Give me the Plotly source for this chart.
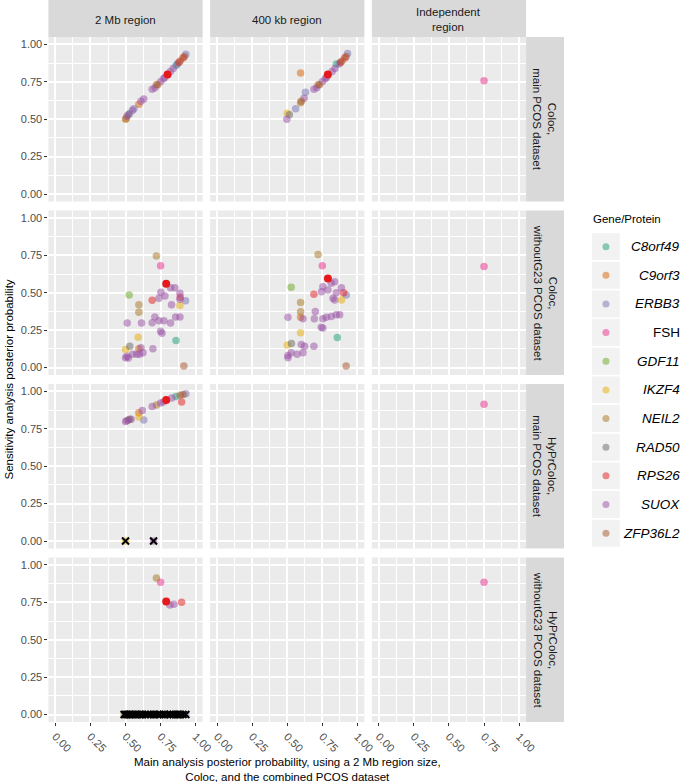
import plotly.graph_objects as go

# ---------------- data ----------------
genes = ["C8orf49", "C9orf3", "ERBB3", "FSH", "GDF11", "IKZF4",
         "NEIL2", "RAD50", "RPS26", "SUOX", "ZFP36L2"]
gene_colors = ["#1B9E77", "#D95F02", "#7570B3", "#E7298A", "#66A61E", "#E6AB02",
               "#A6761D", "#666666", "#E41A1C", "#984EA3", "#A65628"]
italic_genes = [True, True, True, False, True, True, True, True, True, True, True]

col_labels = ["2 Mb region", "400 kb region", "Independent<br>region"]
row_labels = ["Coloc,<br>main PCOS dataset",
              "Coloc,<br>withoutG23 PCOS dataset",
              "HyPrColoc,<br>main PCOS dataset",
              "HyPrColoc,<br>withoutG23 PCOS dataset"]
tick_vals = [0.0, 0.25, 0.5, 0.75, 1.0]
tick_text = ["0.00", "0.25", "0.50", "0.75", "1.00"]
minor_vals = [0.125, 0.375, 0.625, 0.875]
x_title = "Main analysis posterior probability, using a 2 Mb region size,<br>Coloc, and the combined PCOS dataset"
y_title = "Sensitivity analysis posterior probability"
legend_title = "Gene/Protein"

# Coloc main, 2 Mb
p11_gene = ["NEIL2", "C9orf3", "SUOX", "RAD50", "ERBB3", "SUOX", "ERBB3", "C9orf3", "SUOX", "SUOX",
            "SUOX", "NEIL2", "SUOX", "ZFP36L2", "SUOX", "SUOX", "SUOX", "SUOX", "SUOX", "C8orf49",
            "ERBB3", "RPS26", "ZFP36L2", "RPS26", "ZFP36L2", "ERBB3"]
p11_x = [0.50, 0.505, 0.51, 0.52, 0.53, 0.55, 0.56, 0.595, 0.61, 0.63,
         0.69, 0.72, 0.71, 0.73, 0.75, 0.77, 0.78, 0.82, 0.84, 0.86,
         0.87, 0.88, 0.89, 0.91, 0.92, 0.93]
p11_y = [0.50, 0.505, 0.52, 0.53, 0.54, 0.56, 0.57, 0.60, 0.62, 0.636,
         0.70, 0.73, 0.71, 0.73, 0.75, 0.77, 0.78, 0.82, 0.84, 0.86,
         0.87, 0.88, 0.89, 0.91, 0.92, 0.934]

# Coloc main, 400 kb
p12_gene = ["SUOX", "IKZF4", "RAD50", "ERBB3", "NEIL2", "ZFP36L2", "SUOX", "ERBB3", "C9orf3",
            "SUOX", "NEIL2", "SUOX", "ZFP36L2", "SUOX", "SUOX", "SUOX", "SUOX", "SUOX", "C8orf49",
            "ERBB3", "RPS26", "ZFP36L2", "RPS26", "ZFP36L2", "ERBB3"]
p12_x = [0.497, 0.50, 0.515, 0.56, 0.595, 0.60, 0.62, 0.63, 0.595,
         0.69, 0.72, 0.71, 0.73, 0.75, 0.77, 0.78, 0.82, 0.84, 0.85,
         0.87, 0.88, 0.89, 0.91, 0.92, 0.93]
p12_y = [0.50, 0.54, 0.53, 0.57, 0.61, 0.62, 0.64, 0.68, 0.81,
         0.70, 0.73, 0.71, 0.73, 0.75, 0.77, 0.78, 0.82, 0.84, 0.87,
         0.87, 0.88, 0.89, 0.91, 0.92, 0.94]

# Coloc main, independent region
p13_gene = ["FSH"]
p13_x = [0.75]
p13_y = [0.757]

# Coloc withoutG23, 2 Mb
p21_gene = ["NEIL2", "FSH", "GDF11", "RPS26", "NEIL2", "NEIL2", "SUOX", "SUOX", "SUOX", "SUOX",
            "SUOX", "SUOX", "SUOX", "SUOX", "ERBB3", "RPS26", "IKZF4", "SUOX", "SUOX", "SUOX",
            "SUOX", "SUOX", "SUOX", "SUOX", "SUOX", "SUOX", "SUOX", "SUOX", "SUOX", "IKZF4",
            "C8orf49", "RAD50", "IKZF4", "C9orf3", "SUOX", "SUOX", "SUOX", "SUOX", "SUOX", "SUOX",
            "SUOX", "SUOX", "ZFP36L2"]
p21_x = [0.72, 0.75, 0.526, 0.69, 0.595, 0.595, 0.752, 0.821, 0.852, 0.888,
         0.738, 0.781, 0.828, 0.888, 0.928, 0.89, 0.888, 0.512, 0.614, 0.709,
         0.69, 0.774, 0.738, 0.821, 0.857, 0.888, 0.75, 0.76, 0.695, 0.59,
         0.86, 0.53, 0.50, 0.595, 0.50, 0.52, 0.55, 0.60, 0.625, 0.61,
         0.58, 0.51, 0.916]
p21_y = [0.745, 0.68, 0.485, 0.45, 0.42, 0.37, 0.503, 0.534, 0.534, 0.497,
         0.464, 0.479, 0.419, 0.457, 0.446, 0.47, 0.415, 0.298, 0.298, 0.338,
         0.30, 0.313, 0.313, 0.298, 0.338, 0.338, 0.243, 0.23, 0.126, 0.203,
         0.18, 0.143, 0.12, 0.125, 0.066, 0.064, 0.088, 0.088, 0.099, 0.132,
         0.088, 0.075, 0.01]

# Coloc withoutG23, 400 kb
p22_gene = ["NEIL2", "FSH", "GDF11", "RPS26", "NEIL2", "NEIL2", "SUOX", "SUOX", "SUOX", "SUOX",
            "SUOX", "ERBB3", "SUOX", "SUOX", "SUOX", "SUOX", "IKZF4", "RPS26", "C9orf3", "SUOX",
            "SUOX", "SUOX", "SUOX", "SUOX", "SUOX", "SUOX", "SUOX", "SUOX", "SUOX", "SUOX",
            "IKZF4", "C8orf49", "RAD50", "IKZF4", "SUOX", "SUOX", "SUOX", "SUOX", "SUOX", "SUOX",
            "SUOX", "SUOX", "ZFP36L2"]
p22_x = [0.72, 0.75, 0.528, 0.69, 0.595, 0.595, 0.754, 0.79, 0.838, 0.814,
         0.886, 0.921, 0.85, 0.826, 0.838, 0.745, 0.887, 0.902, 0.595, 0.612,
         0.505, 0.70, 0.693, 0.754, 0.778, 0.814, 0.85, 0.874, 0.742, 0.754,
         0.595, 0.857, 0.53, 0.50, 0.505, 0.528, 0.612, 0.624, 0.60, 0.69,
         0.57, 0.505, 0.92]
p22_y = [0.755, 0.68, 0.536, 0.49, 0.434, 0.373, 0.54, 0.518, 0.574, 0.563,
         0.534, 0.485, 0.50, 0.464, 0.452, 0.507, 0.452, 0.50, 0.337, 0.326,
         0.337, 0.375, 0.326, 0.326, 0.337, 0.342, 0.353, 0.353, 0.27, 0.264,
         0.232, 0.20, 0.16, 0.15, 0.081, 0.099, 0.099, 0.143, 0.154, 0.143,
         0.088, 0.066, 0.01]

# Coloc withoutG23, independent region
p23_gene = ["FSH"]
p23_x = [0.75]
p23_y = [0.675]

# HyPrColoc main, 2 Mb
p31_gene = ["SUOX", "SUOX", "NEIL2", "RAD50", "SUOX", "ERBB3", "IKZF4", "C9orf3", "SUOX", "SUOX",
            "NEIL2", "SUOX", "SUOX", "SUOX", "C8orf49", "ZFP36L2", "RPS26", "ZFP36L2", "ERBB3"]
p31_x = [0.50, 0.51, 0.52, 0.53, 0.54, 0.63, 0.595, 0.595, 0.62, 0.69,
         0.72, 0.75, 0.77, 0.83, 0.86, 0.89, 0.90, 0.91, 0.93]
p31_y = [0.80, 0.805, 0.81, 0.815, 0.815, 0.81, 0.83, 0.857, 0.873, 0.90,
         0.91, 0.923, 0.93, 0.956, 0.967, 0.974, 0.93, 0.98, 0.985]

# HyPrColoc main, independent region
p33_gene = ["FSH"]
p33_x = [0.75]
p33_y = [0.915]

# HyPrColoc withoutG23, 2 Mb
p41_gene = ["NEIL2", "FSH", "SUOX", "SUOX", "RPS26"]
p41_x = [0.72, 0.75, 0.816, 0.845, 0.90]
p41_y = [0.913, 0.885, 0.733, 0.738, 0.75]

# HyPrColoc withoutG23, independent region
p43_gene = ["FSH"]
p43_x = [0.75]
p43_y = [0.885]

# Highlighted (opaque red) points: row, column, x, y
highlight_row = [0, 0, 1, 1, 2, 3]
highlight_col = [0, 1, 0, 1, 0, 0]
highlight_x = [0.80, 0.79, 0.79, 0.79, 0.79, 0.79]
highlight_y = [0.80, 0.80, 0.56, 0.596, 0.943, 0.756]

# Failed analyses (drawn with a black cross at 0)
fail3_gene = ["IKZF4", "SUOX"]
fail3_x = [0.50, 0.70]
fail3_y = [0.0, 0.0]

fail4_gene = ["NEIL2", "SUOX", "IKZF4", "RAD50", "GDF11", "SUOX", "ERBB3", "C9orf3", "SUOX", "C9orf3",
              "IKZF4", "SUOX", "ERBB3", "SUOX", "SUOX", "SUOX", "RPS26", "SUOX", "SUOX", "SUOX",
              "SUOX", "SUOX", "SUOX", "SUOX", "C8orf49", "ERBB3", "ZFP36L2", "RPS26", "ZFP36L2", "ERBB3"]
fail4_x = [0.49, 0.50, 0.51, 0.52, 0.53, 0.535, 0.55, 0.57, 0.585, 0.60,
           0.61, 0.62, 0.64, 0.66, 0.68, 0.70, 0.71, 0.73, 0.745, 0.77,
           0.78, 0.80, 0.82, 0.84, 0.855, 0.87, 0.88, 0.89, 0.91, 0.93]
fail4_y = [0.0, 0.0, 0.0, 0.0, 0.0, 0.0, 0.0, 0.0, 0.0, 0.0,
           0.0, 0.0, 0.0, 0.0, 0.0, 0.0, 0.0, 0.0, 0.0, 0.0,
           0.0, 0.0, 0.0, 0.0, 0.0, 0.0, 0.0, 0.0, 0.0, 0.0]

panels = [
    (0, 0, p11_gene, p11_x, p11_y),
    (0, 1, p12_gene, p12_x, p12_y),
    (0, 2, p13_gene, p13_x, p13_y),
    (1, 0, p21_gene, p21_x, p21_y),
    (1, 1, p22_gene, p22_x, p22_y),
    (1, 2, p23_gene, p23_x, p23_y),
    (2, 0, p31_gene, p31_x, p31_y),
    (2, 2, p33_gene, p33_x, p33_y),
    (3, 0, p41_gene, p41_x, p41_y),
    (3, 2, p43_gene, p43_x, p43_y),
]
failed = [
    (2, 0, fail3_gene, fail3_x, fail3_y),
    (3, 0, fail4_gene, fail4_x, fail4_y),
]

# ---------------- layout helpers ----------------
W, H = 683, 782
SX = 1.0146  # horizontal correction observed in the captured picture
FONT = "Liberation Sans, Arial, sans-serif"
col_px = [(48.5, 203.0), (210.5, 365.0), (372.5, 527.0)]
row_px = [(37.0, 201.5), (210.5, 375.0), (384.0, 548.5), (557.5, 722.0)]
strip_right = (527.0, 565.0)
strip_top = (0.0, 37.0)


def fx(p):
    return p * SX / W


def fy(p):
    return 1 - p / H


def rgba(hexc, a):
    h = hexc.lstrip("#")
    r, g, b = int(h[0:2], 16), int(h[2:4], 16), int(h[4:6], 16)
    return f"rgba({r},{g},{b},{a})"


color_of = dict(zip(genes, gene_colors))


def axis_ids(r, c):
    n = r * 3 + c + 1
    s = "" if n == 1 else str(n)
    return "x" + s, "y" + s, "xaxis" + s, "yaxis" + s


fig = go.Figure()
layout_axes = {}
shapes = []
annotations = []

for r in range(4):
    for c in range(3):
        xid, yid, xname, yname = axis_ids(r, c)
        x0, x1 = col_px[c]
        y0, y1 = row_px[r]
        common = dict(
            range=[-0.05, 1.05], tickvals=tick_vals, ticktext=tick_text,
            showgrid=True, gridcolor="white", gridwidth=1.5,
            minor=dict(tickvals=minor_vals, showgrid=True, gridcolor="white", gridwidth=0.8),
            zeroline=False, showline=False, ticklen=3, tickwidth=1, tickcolor="#333333",
            tickfont=dict(family=FONT, size=11, color="#4D4D4D"), fixedrange=True,
        )
        layout_axes[xname] = dict(common, domain=[fx(x0), fx(x1)], anchor=yid,
                                  ticks="outside" if r == 3 else "",
                                  showticklabels=(r == 3), tickangle=45)
        layout_axes[yname] = dict(common, domain=[fy(y1), fy(y0)], anchor=xid,
                                  ticks="outside" if c == 0 else "",
                                  showticklabels=(c == 0))
        shapes.append(dict(type="rect", xref=xid + " domain", yref=yid + " domain",
                           x0=0, x1=1, y0=0, y1=1, fillcolor="#EBEBEB",
                           line=dict(width=0), layer="below"))
        # empty trace so every panel's axes and grid are drawn
        fig.add_trace(go.Scatter(x=[None], y=[None], mode="markers", xaxis=xid, yaxis=yid,
                                 showlegend=False, hoverinfo="skip"))

# strips
for c in range(3):
    x0, x1 = col_px[c]
    shapes.append(dict(type="rect", xref="paper", yref="paper", x0=fx(x0), x1=fx(x1),
                       y0=fy(strip_top[1]), y1=fy(strip_top[0]), fillcolor="#D9D9D9",
                       line=dict(width=0), layer="below"))
    annotations.append(dict(xref="paper", yref="paper", x=fx((x0 + x1) / 2),
                            y=fy((strip_top[0] + strip_top[1]) / 2 + 1), text=col_labels[c],
                            showarrow=False, xanchor="center", yanchor="middle",
                            font=dict(family=FONT, size=11.5, color="#1A1A1A")))
for r in range(4):
    y0, y1 = row_px[r]
    shapes.append(dict(type="rect", xref="paper", yref="paper", x0=fx(strip_right[0]),
                       x1=fx(strip_right[1]), y0=fy(y1), y1=fy(y0), fillcolor="#D9D9D9",
                       line=dict(width=0), layer="below"))
    annotations.append(dict(xref="paper", yref="paper", x=fx((strip_right[0] + strip_right[1]) / 2),
                            y=fy((y0 + y1) / 2), text=row_labels[r], textangle=90,
                            showarrow=False, xanchor="center", yanchor="middle",
                            font=dict(family=FONT, size=11.5, color="#1A1A1A")))

# data traces
MS = 7.5
for r, c, g_list, xs, ys in panels:
    xid, yid, _, _ = axis_ids(r, c)
    for g in genes:
        px_ = [x for gg, x in zip(g_list, xs) if gg == g]
        py_ = [y for gg, y in zip(g_list, ys) if gg == g]
        if not px_:
            continue
        fig.add_trace(go.Scatter(x=px_, y=py_, mode="markers", xaxis=xid, yaxis=yid,
                                 marker=dict(size=MS, color=rgba(color_of[g], 0.5), line=dict(width=0)),
                                 showlegend=False, hoverinfo="skip"))

for r, c, g_list, xs, ys in failed:
    xid, yid, _, _ = axis_ids(r, c)
    for g in genes:
        px_ = [x for gg, x in zip(g_list, xs) if gg == g]
        py_ = [y for gg, y in zip(g_list, ys) if gg == g]
        if not px_:
            continue
        fig.add_trace(go.Scatter(x=px_, y=py_, mode="markers", xaxis=xid, yaxis=yid,
                                 marker=dict(size=MS, color=rgba(color_of[g], 0.5), line=dict(width=0)),
                                 showlegend=False, hoverinfo="skip"))
    fig.add_trace(go.Scatter(x=xs, y=ys, mode="markers", xaxis=xid, yaxis=yid,
                             marker=dict(symbol="x-thin", size=7, line=dict(width=2, color="black")),
                             showlegend=False, hoverinfo="skip"))

for r, c, x, y in zip(highlight_row, highlight_col, highlight_x, highlight_y):
    xid, yid, _, _ = axis_ids(r, c)
    fig.add_trace(go.Scatter(x=[x], y=[y], mode="markers", xaxis=xid, yaxis=yid,
                             marker=dict(size=MS + 0.5, color=color_of["RPS26"], line=dict(width=0)),
                             showlegend=False, hoverinfo="skip"))

# manual legend on an auxiliary axis
leg_idx = list(range(len(genes)))
layout_axes["xaxis13"] = dict(domain=[fx(593), fx(621)], range=[0, 1], visible=False,
                              anchor="y13", fixedrange=True)
layout_axes["yaxis13"] = dict(domain=[fy(547.5), fy(232.3)], range=[len(genes) - 0.5, -0.5],
                              visible=False, anchor="x13", fixedrange=True)
fig.add_trace(go.Scatter(x=[0.5] * len(genes), y=leg_idx, mode="markers", xaxis="x13", yaxis="y13",
                         marker=dict(size=7, color=[rgba(cc, 0.5) for cc in gene_colors],
                                     line=dict(width=0)),
                         showlegend=False, hoverinfo="skip"))
for i, g in enumerate(genes):
    shapes.append(dict(type="rect", xref="x13", yref="y13", x0=0, x1=1, y0=i - 0.47, y1=i + 0.47,
                       fillcolor="#F2F2F2", line=dict(width=0), layer="below"))
    label = f"<i>{g}</i>" if italic_genes[i] else g
    annotations.append(dict(xref="paper", yref="y13", x=693 / W, y=i, text=label,
                            showarrow=False, xanchor="right", yanchor="middle",
                            font=dict(family=FONT, size=13.5, color="#000000")))
annotations.append(dict(xref="paper", yref="paper", x=fx(592), y=fy(219), text=legend_title,
                        showarrow=False, xanchor="left", yanchor="middle",
                        font=dict(family=FONT, size=11.5, color="#000000")))

# axis titles
annotations.append(dict(xref="paper", yref="paper", x=fx((col_px[0][0] + col_px[2][1]) / 2),
                        y=fy(754), text=x_title, showarrow=False, xanchor="center", yanchor="top",
                        font=dict(family=FONT, size=11.5, color="#000000")))
annotations.append(dict(xref="paper", yref="paper", x=fx(9), y=fy((row_px[0][0] + row_px[3][1]) / 2),
                        text=y_title, textangle=-90, showarrow=False, xanchor="center",
                        yanchor="middle", font=dict(family=FONT, size=11.5, color="#000000")))

fig.update_layout(
    width=W, height=H, autosize=False,
    margin=dict(l=0, r=0, t=0, b=0),
    paper_bgcolor="white", plot_bgcolor="rgba(0,0,0,0)",
    showlegend=False, shapes=shapes, annotations=annotations,
    font=dict(family=FONT),
    **layout_axes,
)

# remove the default 8px page margin and any scrollbars so the figure fills the window exactly
fig.write_html("out.html", config={"displayModeBar": False},
               post_script=("document.body.style.margin='0px';"
                            "document.body.style.overflow='hidden';"
                            "document.documentElement.style.overflow='hidden';"))
